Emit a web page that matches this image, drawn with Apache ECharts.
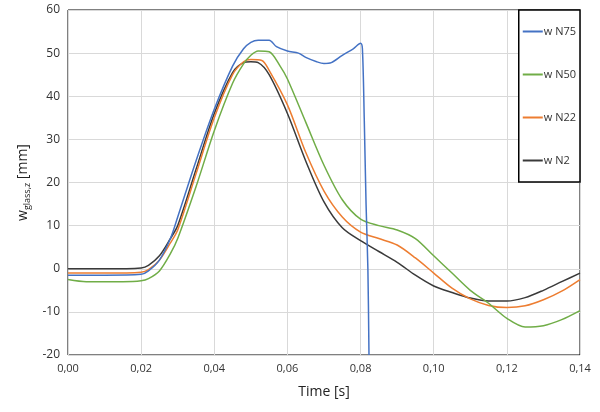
<!DOCTYPE html>
<html><head><meta charset="utf-8">
<script src="https://cdn.jsdelivr.net/npm/echarts@6/dist/echarts.min.js"></script>
<style>html,body{margin:0;padding:0;background:#fff}#c{width:600px;height:412px}</style>
</head><body><div id="c"></div>
<script>
const names = ['w N75','w N50','w N22','w N2'];
const colors = ['#4472C4','#70AD47','#ED7D31','#3a3a3a'];
const xTicks = ['0,00','0,02','0,04','0,06','0,08','0,10','0,12','0,14'];
const x75 = [0,0.01,0.02,0.022,0.025,0.028,0.03,0.035,0.04,0.045,0.048,0.05,0.052,0.055,0.057,0.06,0.063,0.065,0.068,0.07,0.072,0.075,0.078,0.08,0.0805,0.081,0.0815,0.082,0.0823];
const y75 = [-1.5,-1.5,-1.3,-0.5,2,7,12,25,37,47,51,52.5,53,53,51.5,50.5,50,49,48,47.6,47.8,49.5,51,52.3,51,35,15,0,-20];
const x50 = [0,0.005,0.01,0.015,0.02,0.022,0.025,0.028,0.03,0.035,0.04,0.045,0.048,0.05,0.052,0.055,0.058,0.06,0.065,0.07,0.075,0.08,0.085,0.09,0.095,0.1,0.105,0.11,0.115,0.12,0.125,0.13,0.135,0.14];
const y50 = [-2.5,-3,-3,-3,-2.8,-2.3,-0.5,3.5,7,19,32,43,47.5,49.5,50.5,50.3,47,44,34,24,16,11.5,10,9,7,3,-1,-5,-8,-11.5,-13.5,-13.2,-11.8,-9.7];
const x22 = [0,0.01,0.02,0.022,0.025,0.028,0.03,0.035,0.04,0.045,0.048,0.05,0.053,0.055,0.06,0.065,0.07,0.075,0.08,0.085,0.09,0.095,0.1,0.105,0.11,0.115,0.12,0.125,0.13,0.135,0.14];
const y22 = [-1,-1,-0.8,-0.2,2,6,9,22,35,45,48,48.5,48.3,46,38,27,18,12,8.5,7,5.5,2.5,-1,-4.5,-7,-8.5,-9,-8.6,-7.2,-5.2,-2.5];
const x2 = [0,0.01,0.02,0.022,0.025,0.028,0.03,0.035,0.04,0.045,0.048,0.05,0.052,0.055,0.06,0.065,0.07,0.075,0.08,0.085,0.09,0.095,0.1,0.105,0.11,0.115,0.12,0.125,0.13,0.135,0.14];
const y2 = [0,0,0.2,0.8,3,7,10,23,36,45.5,47.8,48,47.8,45,36,25,15.5,9.5,6.5,4,1.5,-1.5,-4,-5.5,-6.8,-7.5,-7.5,-6.7,-5,-3,-1];
const xs=[x75,x50,x22,x2], ys=[y75,y50,y22,y2];
const chart = echarts.init(document.getElementById('c'));
chart.setOption({
  animation:false,
  grid:{left:68,right:20,top:10,bottom:57,show:true,borderColor:'#000',borderWidth:1},
  xAxis:{type:'value',min:0,max:0.14,interval:0.02,name:'Time [s]',nameLocation:'middle',nameGap:30,
    nameTextStyle:{fontFamily:'Open Sans',fontSize:14,color:'#222'},
    axisLine:{show:false},axisTick:{show:false},
    axisLabel:{fontFamily:'Open Sans',fontSize:11,color:'#333',formatter:(v)=>xTicks[Math.round(v/0.02)]},
    splitLine:{lineStyle:{color:'#d9d9d9'}}},
  yAxis:{type:'value',min:-20,max:60,interval:10,name:'{a|w}{b|glass,z}{a| [mm]}',nameLocation:'middle',nameGap:36,
    nameTextStyle:{rich:{a:{fontFamily:'Open Sans',fontSize:14,color:'#222'},b:{fontFamily:'Open Sans',fontSize:9,color:'#222',verticalAlign:'bottom',padding:[8,0,0,0]}}},
    axisLine:{show:false},axisTick:{show:false},
    axisLabel:{fontFamily:'Open Sans',fontSize:12,color:'#333'},
    splitLine:{lineStyle:{color:'#d9d9d9'}}},
  legend:{orient:'vertical',right:20,top:10,width:44,height:150,itemGap:32,padding:[16,4,16,4],
    backgroundColor:'#fff',borderColor:'#000',borderWidth:1.5,borderRadius:0,
    itemWidth:20,itemHeight:2,icon:'rect',
    textStyle:{fontFamily:'Open Sans',fontSize:11,color:'#333',padding:[0,0,0,-4]},data:names},
  series:names.map((n,i)=>({name:n,type:'line',smooth:0.3,showSymbol:false,symbol:'none',
    lineStyle:{color:colors[i],width:1.5},itemStyle:{color:colors[i]},
    z:10-i,data:xs[i].map((x,j)=>[x,ys[i][j]])}))
});
</script></body></html>
